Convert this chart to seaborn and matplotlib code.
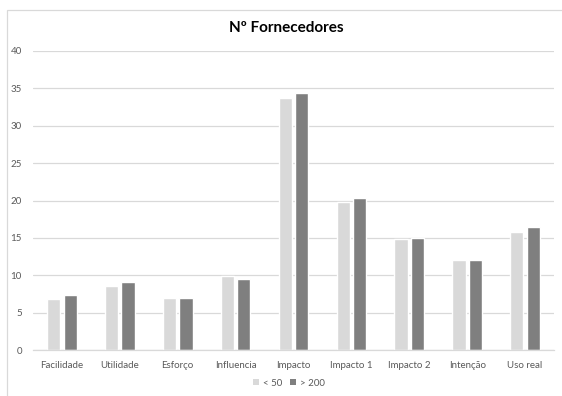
import matplotlib
matplotlib.use("Agg")
import matplotlib.pyplot as plt
import seaborn as sns
import pandas as pd
from matplotlib.patches import Rectangle, Patch

categories = ["Facilidade", "Utilidade", "Esforço", "Influencia", "Impacto",
              "Impacto 1", "Impacto 2", "Intenção", "Uso real"]
menos_50 = [6.8, 8.6, 6.9, 9.9, 33.7, 19.8, 14.9, 12.1, 15.8]
mais_200 = [7.4, 9.1, 7.0, 9.5, 34.4, 20.3, 15.0, 12.0, 16.5]
series_names = ["< 50", "> 200"]
y_ticks = [0, 5, 10, 15, 20, 25, 30, 35, 40]

df = pd.DataFrame({
    "categoria": categories * 2,
    "valor": menos_50 + mais_200,
    "grupo": [series_names[0]] * len(categories) + [series_names[1]] * len(categories),
})

sns.set_theme(style="white")
plt.rcParams["font.family"] = ["Lato", "DejaVu Sans"]

text_color = "#595959"
grid_color = "#D9D9D9"
palette = {"< 50": "#D9D9D9", "> 200": "#7F7F7F"}

fig = plt.figure(figsize=(5.62, 3.96), dpi=100)
ax = fig.add_axes([33 / 562, 1 - 350 / 396, (554 - 33) / 562, (350 - 51) / 396])

sns.barplot(data=df, x="categoria", y="valor", hue="grupo", palette=palette,
            width=0.57, gap=0.2, ax=ax, legend=False, saturation=1)

ax.set_ylim(0, 40)
ax.set_yticks(y_ticks)
ax.set_yticklabels([str(t) for t in y_ticks], color=text_color, fontsize=7)
ax.tick_params(axis="x", labelsize=7, colors=text_color, length=0, pad=8)
ax.tick_params(axis="y", length=0, pad=8)
ax.set_xlabel("")
ax.set_ylabel("")
ax.set_xlim(-0.5, len(categories) - 0.5)
ax.yaxis.grid(True, color=grid_color, linewidth=0.9)
ax.set_axisbelow(True)
for side in ["top", "right", "left"]:
    ax.spines[side].set_visible(False)
ax.spines["bottom"].set_color(grid_color)
ax.spines["bottom"].set_linewidth(0.9)

fig.text(286 / 562, 1 - 28 / 396, "Nº Fornecedores", ha="center", va="center",
         fontsize=11, fontweight="bold", color="#000000")

handles = [Patch(facecolor=palette[n], edgecolor="none", label=n) for n in series_names]
fig.legend(handles=handles, loc="center", bbox_to_anchor=(289 / 562, 1 - 383 / 396),
           ncol=2, frameon=False, fontsize=7, labelcolor=text_color,
           handlelength=0.6, handleheight=0.6, handletextpad=0.4, columnspacing=0.8)

fig.patches.append(Rectangle((7 / 562, -0.05), 1.1, 1 - 10 / 396 + 0.05,
                             transform=fig.transFigure, fill=False,
                             edgecolor=grid_color, linewidth=0.9))

fig.savefig("out.png", dpi=100)
